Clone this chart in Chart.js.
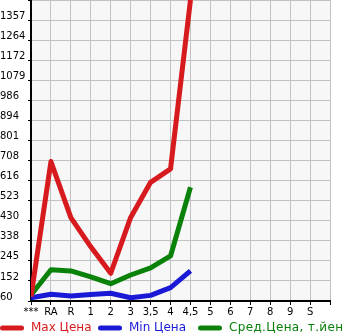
<!DOCTYPE html>
<html>
<head>
<meta charset="utf-8">
<script src="https://cdn.jsdelivr.net/npm/chart.js@4"></script>
<style>
html,body{margin:0;padding:0;background:#fff;}
#wrap{width:345px;height:335px;position:relative;}
</style>
</head>
<body>
<div id="wrap"><canvas id="c"></canvas></div>
<script>
const categories = ['***','RA','R','1','2','3','3,5','4','4,5','5','6','7','8','9','S'];
const maxPrice = [80, 704, 445, 310, 188, 446, 608, 670, 1450, null, null, null, null, null, null];
const minPrice = [75, 91, 83, 90, 96, 75, 86, 122, 199, null, null, null, null, null, null];
const avgPrice = [88, 204, 199, 171, 140, 180, 213, 268, 585, null, null, null, null, null, null];
const yTickLabels = ['60','152','245','338','430','523','616','708','801','894','986','1079','1172','1264','1357',''];
const yMin = 60, yMax = 1450;

const toPts = arr => arr.map((v, i) => v === null ? null : {x: i, y: v}).filter(p => p);

const bgPlugin = {
  id: 'bg',
  beforeDraw(chart) {
    const {ctx, chartArea: a} = chart;
    ctx.save();
    ctx.fillStyle = '#f7f7f7';
    ctx.fillRect(a.left, a.top, a.right - a.left, a.bottom - a.top);
    ctx.restore();
  }
};

const legendStarts = [0, 98, 198];
const legendPlugin = {
  id: 'customLegend',
  afterDraw(chart) {
    const ctx = chart.ctx;
    const y = 328;
    ctx.save();
    ctx.font = '12px "DejaVu Sans"';
    ctx.textBaseline = 'middle';
    ctx.textAlign = 'left';
    chart.data.datasets.forEach((ds, i) => {
      const x = legendStarts[i];
      ctx.strokeStyle = ds.borderColor;
      ctx.lineWidth = 5;
      ctx.lineCap = 'round';
      ctx.beginPath();
      ctx.moveTo(x + 2.5, y);
      ctx.lineTo(x + 21.5, y);
      ctx.stroke();
      ctx.fillStyle = ds.borderColor;
      if (i === 2) { try { ctx.letterSpacing = '0.35px'; } catch (e) {} }
      ctx.fillText(ds.label, x + 31, y);
    });
    ctx.restore();
  }
};

const font = {family: 'DejaVu Sans', size: 10};

new Chart(document.getElementById('c'), {
  type: 'line',
  data: {
    datasets: [
      {label: 'Max Цена', data: toPts(maxPrice), borderColor: '#d71a1e', backgroundColor: '#d71a1e', borderWidth: 5, pointRadius: 0, borderJoinStyle: 'round', tension: 0},
      {label: 'Min Цена', data: toPts(minPrice), borderColor: '#1a1ad6', backgroundColor: '#1a1ad6', borderWidth: 5, pointRadius: 0, borderJoinStyle: 'round', tension: 0},
      {label: 'Сред.Цена, т.йен', data: toPts(avgPrice), borderColor: '#0a820a', backgroundColor: '#0a820a', borderWidth: 5, pointRadius: 0, borderJoinStyle: 'round', tension: 0}
    ]
  },
  options: {
    responsive: true,
    maintainAspectRatio: false,
    animation: false,
    layout: {padding: {left: 0, right: 15, top: 0, bottom: 0}},
    plugins: {
      tooltip: {enabled: false},
      legend: {display: false}
    },
    scales: {
      x: {
        type: 'linear',
        min: 0,
        max: 15,
        afterBuildTicks(scale) {
          scale.ticks = Array.from({length: 16}, (_, i) => ({value: i}));
        },
        afterFit(scale) { scale.height = 34; scale.paddingLeft = 0; scale.paddingRight = 0; },
        ticks: {
          autoSkip: false,
          maxRotation: 0,
          padding: 1,
          color: '#000',
          font: font,
          callback: (v) => categories[v] !== undefined ? categories[v] : ''
        },
        grid: {color: '#c2c2c2', lineWidth: 1, tickLength: 4, tickColor: '#000'},
        border: {color: '#000', width: 2}
      },
      y: {
        type: 'linear',
        min: yMin,
        max: yMax,
        afterBuildTicks(scale) {
          scale.ticks = yTickLabels.map((_, i) => ({value: yMin + i * (yMax - yMin) / (yTickLabels.length - 1)}));
        },
        afterFit(scale) { scale.width = 31; scale.paddingTop = 0; scale.paddingBottom = 0; },
        ticks: {
          color: '#000',
          font: font,
          crossAlign: 'far',
          labelOffset: -4,
          padding: 2,
          callback: (v, i) => yTickLabels[i]
        },
        grid: {color: '#c2c2c2', lineWidth: 1, tickLength: 3, tickColor: '#000'},
        border: {color: '#000', width: 2}
      }
    }
  },
  plugins: [bgPlugin, legendPlugin]
});
</script>
</body>
</html>
